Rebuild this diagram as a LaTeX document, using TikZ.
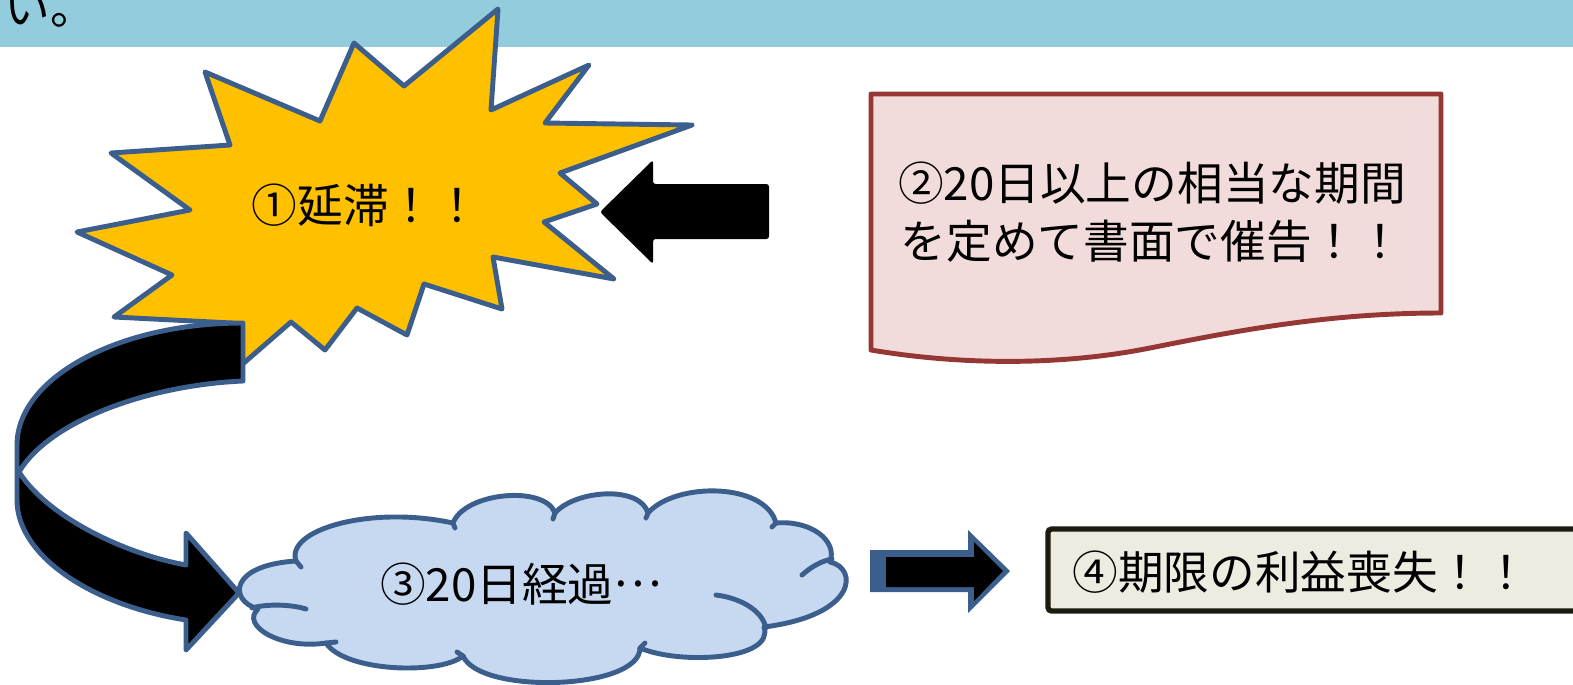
\documentclass[tikz,border=0pt]{standalone}
\usepackage{fontspec}
\setmainfont{Noto Sans CJK JP}
\definecolor{bandblue}{HTML}{93CDDD}
\definecolor{starfill}{HTML}{FFC000}
\definecolor{edgeblue}{HTML}{3B5E8C}
\definecolor{docfill}{HTML}{F2DCDB}
\definecolor{docedge}{HTML}{953735}
\definecolor{cloudfill}{HTML}{C6D9F1}
\definecolor{boxfill}{HTML}{EEECE1}
\definecolor{boxedge}{HTML}{1D1B10}
\tikzset{
  bigtext/.style={font=\fontsize{26}{33}\selectfont, align=center, inner sep=0pt},
  shapeedge/.style={line width=2.8pt, line join=round},
}
\begin{document}
\begin{tikzpicture}[x=0.02cm, y=-0.02cm]
\useasboundingbox (0,0) rectangle (1573,684);
\clip (0,0) rectangle (1573,684);

% Header band
\fill[bandblue] (0,0) rectangle (1573,47);
\node[bigtext, anchor=base west] (tail) at (4,24) {い。};

% Burst
\filldraw[fill=starfill, draw=edgeblue, shapeedge]
  (498,9) -- (491,110) -- (589,65) -- (545,123) -- (692,125) -- (560,173)
  -- (597,204) -- (544,222) -- (614,279) -- (493,257) -- (502,309)
  -- (424,284) -- (407,335) -- (357,308) -- (325,350) -- (291,322)
  -- (222,382) -- (232,323) -- (114,317) -- (172,275) -- (77,232)
  -- (190,210) -- (111,153) -- (230,145) -- (205,72) -- (320,121)
  -- (354,43) -- (404,86) -- cycle;
\node[bigtext] (delay) at (366,205) {①延滞！！};

% Curved arrow down to the cloud
\filldraw[fill=black, draw=edgeblue, shapeedge]
  (243,323) .. controls (118,323) and (17,378) .. (17,445)
  -- (17,500) .. controls (17,555) and (90,605) .. (186,620)
  -- (186,650) -- (239,593) -- (186,533) -- (186,565)
  .. controls (130,555) and (50,520) .. (19,472)
  .. controls (50,420) and (150,385) .. (243,381) -- cycle;

% Document
\filldraw[fill=docfill, draw=docedge, shapeedge]
  (871,94) -- (1441,94) -- (1441,313)
  .. controls (1330,313) and (1240,330) .. (1150,348)
  .. controls (1060,366) and (960,365) .. (871,350) -- cycle;
\node[bigtext] (notice) at (1152,212) {②20日以上の相当な期間\\を定めて書面で催告！！};

% Arrow into the burst
\fill[black, rounded corners=1.5pt] (769,184) -- (653,184) -- (653,160) -- (600,212)
  -- (653,264) -- (653,239) -- (769,239) -- cycle;

% Cloud
\filldraw[fill=cloudfill, draw=edgeblue, shapeedge]
  (258,609) .. controls (228,600) and (230,565) .. (296,561)
  .. controls (285,530) and (370,505) .. (453,523)
  .. controls (465,492) and (545,485) .. (555,513)
  .. controls (575,490) and (640,485) .. (648,513)
  .. controls (675,482) and (765,482) .. (776,523)
  .. controls (810,520) and (838,540) .. (830,562)
  .. controls (858,568) and (858,615) .. (764,627)
  .. controls (775,660) and (680,665) .. (640,648)
  .. controls (640,690) and (480,695) .. (463,656)
  .. controls (440,675) and (345,672) .. (326,643)
  .. controls (280,650) and (240,625) .. (258,609) -- cycle;
% inner puff lines
\draw[edgeblue, shapeedge, line cap=round]
  (252,608) .. controls (265,604) and (290,604) .. (306,609)
  (802,575) .. controls (812,566) and (822,561) .. (832,559)
  (716,595) .. controls (740,598) and (762,610) .. (766,628)
  (296,561) -- (301,567) (453,523) -- (455,528) (555,513) -- (553,519)
  (648,513) -- (646,518) (776,523) -- (772,527) (640,648) -- (645,643)
  (463,656) -- (457,652) (326,643) -- (336,642);
\node[bigtext] (lapse) at (521,584) {③20日経過\raisebox{.33em}{…}};

% Arrow to the result
\fill[edgeblue] (870,550) -- (968,550) -- (968,530) -- (1010,571) -- (968,613)
  -- (968,592) -- (870,592) -- cycle;
\fill[black] (886,557) -- (974,557) -- (974,542) -- (1003,571) -- (974,601)
  -- (974,587) -- (886,587) -- cycle;

% Result box
\filldraw[fill=boxfill, draw=boxedge, line width=3pt, rounded corners=2pt]
  (1048,529) rectangle (1620,611);
\node[bigtext, anchor=west] (loss) at (1072,572) {④期限の利益喪失！！};
\end{tikzpicture}
\end{document}
